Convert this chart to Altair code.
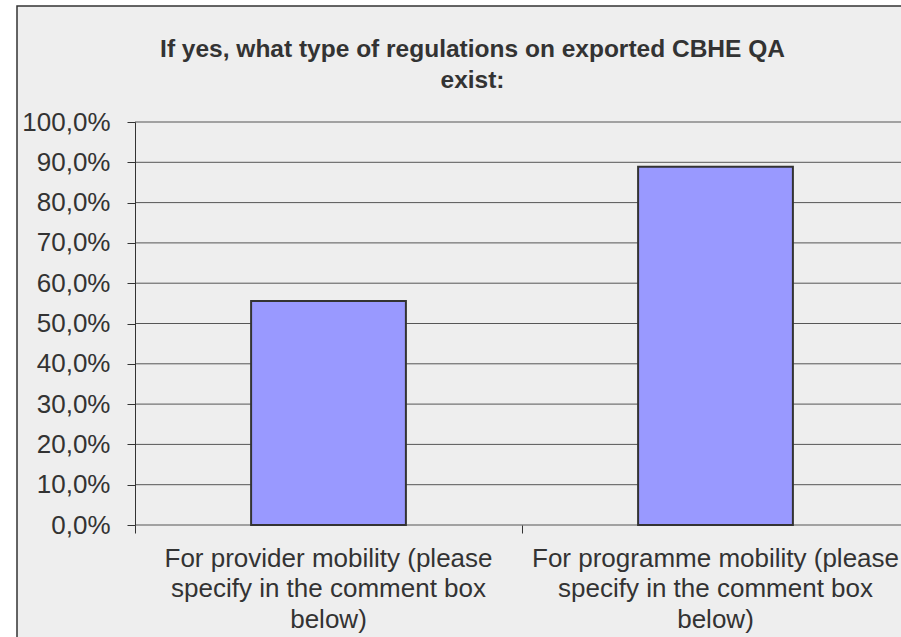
import altair as alt
import pandas as pd

# ---- data ----
categories = [
    "For provider mobility (please specify in the comment box below)",
    "For programme mobility (please specify in the comment box below)",
]
label_lines = [
    ["For provider mobility (please", "specify in the comment box", "below)"],
    ["For programme mobility (please", "specify in the comment box", "below)"],
]
values = [0.556, 0.889]
y_ticks = [0.0, 0.1, 0.2, 0.3, 0.4, 0.5, 0.6, 0.7, 0.8, 0.9, 1.0]
title_lines = ["If yes, what type of regulations on exported CBHE QA", "exist:"]

# ---- layout ----
W, H = 766, 403
X_MAX = 2 * W / 774  # plot runs past the right edge of the window
FONT = "Liberation Sans"
TXT = "#333333"

bars_df = pd.DataFrame({"category": categories, "value": values, "idx": [0, 1]})
bars_df["x0"] = bars_df["idx"] + 0.3
bars_df["x1"] = bars_df["idx"] + 0.7
bars_df["xc"] = bars_df["idx"] + 0.5
bars_df["label"] = ["\n".join(l) for l in label_lines]

x_scale = alt.Scale(domain=[0, X_MAX], nice=False, zero=False)
y_scale = alt.Scale(domain=[0, 1], nice=False)

y_axis = alt.Axis(
    values=y_ticks,
    labelExpr="replace(format(datum.value, '.1%'), '.', ',')",
    grid=False, domain=True, domainColor=TXT, domainWidth=1,
    ticks=True, tickColor=TXT, tickSize=8,
    labelFont=FONT, labelFontSize=26, labelColor=TXT, labelPadding=17,
    title=None, zindex=1,
)
x_axis = alt.Axis(
    values=[0, 1], labels=False, grid=False, domain=False,
    ticks=True, tickColor=TXT, tickSize=8, title=None, zindex=1,
)

frame = alt.Chart(pd.DataFrame({"k": [0]})).mark_rect(
    fill="#eeeeee", stroke="#333333", strokeWidth=1.5
).encode(
    x=alt.value(-118), x2=alt.value(W + 60),
    y=alt.value(-116), y2=alt.value(H + 160),
)

title = alt.Chart(pd.DataFrame({"t": ["\n".join(title_lines)]})).mark_text(
    font=FONT, fontSize=24.5, fontWeight="bold", color=TXT,
    lineBreak="\n", lineHeight=31, align="center", baseline="alphabetic",
).encode(x=alt.value(337.5), y=alt.value(-65), text="t:N")

grid = alt.Chart(pd.DataFrame({"t": y_ticks})).mark_rule(
    color="#555555", strokeWidth=1
).encode(y=alt.Y("t:Q", scale=y_scale, axis=y_axis))

bars = alt.Chart(bars_df).mark_rect(
    fill="#9999ff", stroke="#333333", strokeWidth=2
).encode(
    x=alt.X("x0:Q", scale=x_scale, axis=x_axis),
    x2="x1:Q",
    y=alt.Y("value:Q", scale=y_scale, axis=y_axis),
    y2=alt.datum(0),
)

labels = alt.Chart(bars_df).mark_text(
    font=FONT, fontSize=26, color=TXT, lineBreak="\n", lineHeight=30.5,
    align="center", baseline="alphabetic",
).encode(
    x=alt.X("xc:Q", scale=x_scale, axis=x_axis),
    y=alt.value(444.5),
    text="label:N",
)

chart = alt.layer(frame, title, grid, bars, labels).properties(
    width=W, height=H,
    autosize=alt.AutoSizeParams(type="none"),
    padding={"left": 135, "top": 122, "right": 0, "bottom": 112},
).configure(background="white").configure_view(stroke=None)

chart.save("out.html", embed_options={"renderer": "svg", "actions": False})
